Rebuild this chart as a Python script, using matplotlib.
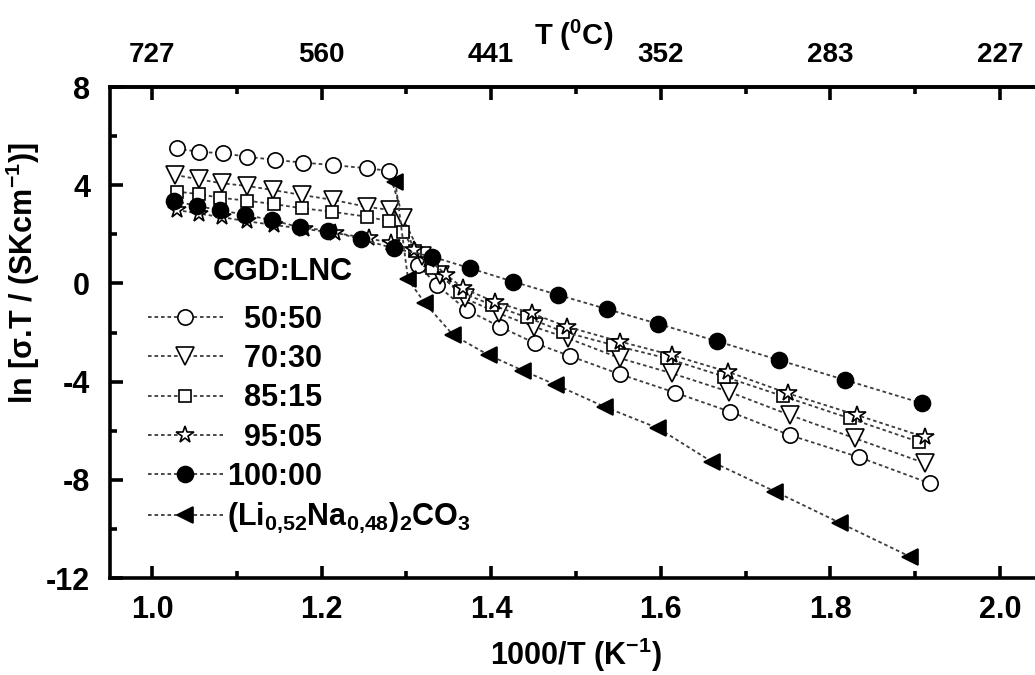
import matplotlib
matplotlib.use('Agg')
import matplotlib.pyplot as plt
from matplotlib.ticker import MultipleLocator

# values
x_5050 = [1.029, 1.055, 1.084, 1.112, 1.145, 1.178, 1.214, 1.253, 1.279, 1.314, 1.336,
          1.371, 1.410, 1.452, 1.493, 1.552, 1.617, 1.682, 1.752, 1.834, 1.917]
y_5050 = [5.50, 5.36, 5.30, 5.16, 5.03, 4.92, 4.82, 4.69, 4.59, 0.75, -0.07,
          -1.08, -1.76, -2.44, -2.96, -3.70, -4.45, -5.23, -6.18, -7.08, -8.14]

x_7030 = [1.027, 1.055, 1.082, 1.112, 1.143, 1.177, 1.214, 1.253, 1.281, 1.296, 1.318, 1.340,
          1.369, 1.409, 1.450, 1.491, 1.552, 1.613, 1.680, 1.752, 1.829, 1.912]
y_7030 = [4.42, 4.24, 4.08, 3.97, 3.80, 3.60, 3.40, 3.12, 2.99, 2.65, 1.10, 0.35,
          -0.61, -1.22, -1.76, -2.24, -3.05, -3.66, -4.41, -5.36, -6.31, -7.33]

x_8515 = [1.029, 1.055, 1.080, 1.112, 1.144, 1.177, 1.212, 1.253, 1.279, 1.296, 1.310, 1.330,
          1.363, 1.401, 1.442, 1.485, 1.544, 1.607, 1.675, 1.744, 1.823, 1.904]
y_8515 = [3.74, 3.64, 3.49, 3.37, 3.23, 3.06, 2.92, 2.72, 2.54, 2.11, 1.30, 0.62,
          -0.34, -0.88, -1.38, -1.97, -2.51, -3.05, -3.80, -4.59, -5.50, -6.45]

x_9505 = [1.029, 1.056, 1.082, 1.112, 1.144, 1.179, 1.216, 1.256, 1.282, 1.309, 1.327, 1.347,
          1.367, 1.404, 1.448, 1.489, 1.552, 1.613, 1.679, 1.750, 1.831, 1.912]
y_9505 = [2.99, 2.84, 2.70, 2.53, 2.38, 2.22, 2.06, 1.83, 1.65, 1.36, 0.95, 0.35,
          -0.20, -0.75, -1.22, -1.76, -2.37, -2.92, -3.60, -4.48, -5.36, -6.27]

x_10000 = [1.026, 1.053, 1.080, 1.110, 1.141, 1.175, 1.208, 1.247, 1.285, 1.330,
           1.375, 1.426, 1.479, 1.536, 1.597, 1.666, 1.739, 1.817, 1.908]
y_10000 = [3.37, 3.15, 2.99, 2.79, 2.58, 2.28, 2.15, 1.80, 1.43, 1.09,
           0.62, 0.07, -0.47, -1.04, -1.65, -2.35, -3.12, -3.93, -4.88]

x_lnc = [1.287, 1.302, 1.322, 1.355, 1.397, 1.438, 1.477, 1.534, 1.597, 1.660, 1.735, 1.811, 1.894]
y_lnc = [4.14, 0.16, -0.81, -2.10, -2.92, -3.56, -4.14, -5.03, -5.90, -7.26, -8.48, -9.75, -11.13]

labels = ['  50:50', '  70:30', '  85:15', '  95:05', '100:00',
          r'(Li$_{\mathrm{0{,}52}}$Na$_{\mathrm{0{,}48}}$)$_{\mathrm{2}}$CO$_{\mathrm{3}}$']

bottom_ticks = [1.0, 1.2, 1.4, 1.6, 1.8, 2.0]
top_labels = ['727', '560', '441', '352', '283', '227']

plt.rcParams['font.family'] = ['Liberation Sans', 'DejaVu Sans']
plt.rcParams['font.weight'] = 'bold'
plt.rcParams['axes.labelweight'] = 'bold'
plt.rcParams['axes.unicode_minus'] = False
plt.rcParams['mathtext.fontset'] = 'custom'
plt.rcParams['mathtext.rm'] = 'Liberation Sans'
plt.rcParams['mathtext.bf'] = 'Liberation Sans:bold'
plt.rcParams['mathtext.it'] = 'Liberation Sans:italic'

fig = plt.figure(figsize=(10.35, 6.75), dpi=100)
ax = fig.add_axes([0.1059, 0.1437, 0.9012, 0.7274])

line_kw = dict(color='#3c3c3c', linestyle=(0, (2.0, 1.6)), linewidth=1.3, markeredgecolor='black',
               markeredgewidth=1.2)

series = [
    (x_5050, y_5050, 'o', 11, 'white'),
    (x_7030, y_7030, 'v', 13, 'white'),
    (x_8515, y_8515, 's', 9, 'white'),
    (x_9505, y_9505, '*', 13, 'white'),
    (x_10000, y_10000, 'o', 11.5, 'black'),
    (x_lnc, y_lnc, '<', 12, 'black'),
]
handles = []
for (xs, ys, mk, ms, fc) in series:
    h, = ax.plot(xs, ys, marker=mk, markersize=ms, markerfacecolor=fc, **line_kw)
    handles.append(h)

ax.set_xlim(0.95, 2.05)
ax.set_ylim(-12, 8)
ax.set_xticks(bottom_ticks)
ax.xaxis.set_minor_locator(MultipleLocator(0.1))
ax.yaxis.set_major_locator(MultipleLocator(4))
ax.yaxis.set_minor_locator(MultipleLocator(2))
ax.xaxis.set_major_formatter(matplotlib.ticker.FormatStrFormatter('%.1f'))

for sp in ax.spines.values():
    sp.set_linewidth(2.6)
ax.tick_params(which='major', direction='in', length=9, width=2.6, labelsize=22, top=False)
ax.tick_params(which='minor', direction='in', length=5, width=2.6, top=False)
ax.tick_params(axis='x', which='major', pad=12)
ax.tick_params(axis='y', which='major', pad=14)

sec = ax.secondary_xaxis('top')
sec.set_xticks(bottom_ticks, labels=top_labels)
sec.xaxis.set_minor_locator(MultipleLocator(0.1))
sec.spines['top'].set_linewidth(2.6)
sec.tick_params(which='major', direction='in', length=9, width=2.6, pad=14)
sec.tick_params(which='minor', direction='in', length=5, width=2.6)
for t in sec.get_xticklabels():
    t.set_fontsize(20)
    t.set_fontweight('bold')

ax.text(0.498, 1.105, r'T ($^{\mathbf{0}}$C)', transform=ax.transAxes, ha='center', va='center',
        fontsize=21)

ax.set_xlabel(r'1000/T (K$^{\mathbf{-1}}$)', fontsize=22, labelpad=8)
ax.set_ylabel(r'ln [σ.T / (SKcm$^{\mathbf{-1}}$)]', fontsize=22)
ax.yaxis.set_label_coords(-0.072, 0.621)

ax.text(0.186, 0.623, 'CGD:LNC', transform=ax.transAxes, ha='center', va='center', fontsize=22)
ax.legend(handles, labels, loc='upper left', bbox_to_anchor=(0.041, 0.556), frameon=False,
          fontsize=22, handlelength=2.45, handletextpad=0.15, labelspacing=0.3,
          borderpad=0, borderaxespad=0)

fig.savefig('out.png', dpi=100)
